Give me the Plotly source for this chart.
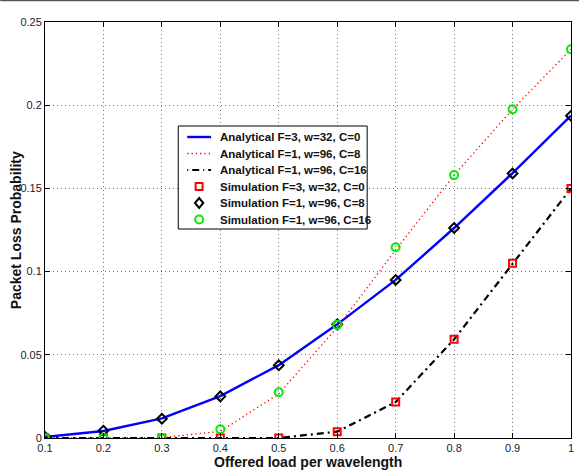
import plotly.graph_objects as go

load = [0.1, 0.2, 0.3, 0.4, 0.5, 0.6, 0.7, 0.8, 0.9, 1.0]

ana_f3_w32_c0 = [0.0006, 0.0042, 0.0118, 0.0252, 0.0438, 0.0683, 0.0950, 0.1262, 0.1592, 0.1937]
ana_f1_w96_c8 = [0.0, 0.0, 0.0002, 0.0040, 0.0265, 0.0665, 0.1130, 0.1580, 0.1975, 0.2336]
ana_f1_w96_c16 = [0.0, 0.0, 0.0, 0.0, 0.0, 0.0038, 0.0216, 0.0593, 0.1050, 0.1500]

sim_f3_w32_c0 = [0.0, 0.0, 0.0, 0.0, 0.0, 0.0038, 0.0216, 0.0593, 0.1050, 0.1500]
sim_f1_w96_c8 = [0.0006, 0.0044, 0.0116, 0.0250, 0.0437, 0.0683, 0.0950, 0.1262, 0.1590, 0.1937]
sim_f1_w96_c16 = [0.0, 0.0, 0.0, 0.0052, 0.0275, 0.0680, 0.1146, 0.1580, 0.1975, 0.2336]

series_names = [
    "Analytical F=3, w=32, C=0",
    "Analytical F=1, w=96, C=8",
    "Analytical F=1, w=96, C=16",
    "Simulation F=3, w=32, C=0",
    "Simulation F=1, w=96, C=8",
    "Simulation F=1, w=96, C=16",
]

x_ticks = [0.1, 0.2, 0.3, 0.4, 0.5, 0.6, 0.7, 0.8, 0.9, 1.0]
x_tick_labels = ["0.1", "0.2", "0.3", "0.4", "0.5", "0.6", "0.7", "0.8", "0.9", "1"]
y_ticks = [0, 0.05, 0.1, 0.15, 0.2, 0.25]
y_tick_labels = ["0", "0.05", "0.1", "0.15", "0.2", "0.25"]
x_title = "Offered load per wavelength"
y_title = "Packet Loss Probability"

FONT = "Liberation Sans, Arial, Helvetica, sans-serif"
BLUE, RED, GREEN = "#0000ff", "#ff0000", "#00ee00"

W, H = 582, 471
ML, MR, MT, MB = 45, 8, 22, 33
PW, PH = W - ML - MR, H - MT - MB


def px(x):
    return (x - ML) / PW


def py(y):
    return (H - MB - y) / PH


fig = go.Figure()
fig.add_trace(go.Scatter(x=load, y=ana_f3_w32_c0, mode="lines", name=series_names[0],
                         line=dict(color=BLUE, width=2.4)))
fig.add_trace(go.Scatter(x=load, y=ana_f1_w96_c8, mode="lines", name=series_names[1],
                         line=dict(color=RED, width=1.3, dash="1.3px,3px")))
fig.add_trace(go.Scatter(x=load, y=ana_f1_w96_c16, mode="lines", name=series_names[2],
                         line=dict(color="#000000", width=2.2, dash="7px,4px,2px,4px")))
fig.add_trace(go.Scatter(x=load, y=sim_f3_w32_c0, mode="markers", name=series_names[3],
                         marker=dict(symbol="square-open", size=7, color=RED,
                                     line=dict(width=2, color=RED))))
fig.add_trace(go.Scatter(x=load, y=sim_f1_w96_c8, mode="markers", name=series_names[4],
                         marker=dict(symbol="diamond-open", size=7.5, color="#000000",
                                     line=dict(width=2, color="#000000"))))
fig.add_trace(go.Scatter(x=load, y=sim_f1_w96_c16, mode="markers", name=series_names[5],
                         marker=dict(symbol="circle-open", size=8, color=GREEN,
                                     line=dict(width=2, color=GREEN))))

axis_common = dict(
    showline=True, linecolor="black", linewidth=1, mirror="ticks",
    ticks="inside", ticklen=5, tickcolor="black",
    showgrid=True, gridcolor="#777777", griddash="1px,3px", gridwidth=1,
    zeroline=False,
    tickfont=dict(family=FONT, size=11, color="#222222"),
)

fig.update_xaxes(range=[0.1, 1.0], tickvals=x_ticks, ticktext=x_tick_labels, **axis_common)
fig.update_yaxes(range=[0, 0.25], tickvals=y_ticks, ticktext=y_tick_labels, **axis_common)

shapes = []
annotations = []

# axis titles
annotations.append(dict(xref="paper", yref="paper", x=px(309), y=py(462),
                        xanchor="center", yanchor="middle", showarrow=False,
                        text=f"<b>{x_title}</b>",
                        font=dict(family=FONT, size=14, color="#111111")))
annotations.append(dict(xref="paper", yref="paper", x=px(16), y=py(230),
                        xanchor="center", yanchor="middle", showarrow=False, textangle=-90,
                        text=f"<b>{y_title}</b>",
                        font=dict(family=FONT, size=14, color="#111111")))

# custom legend (box, samples, labels)
shapes.append(dict(type="rect", xref="paper", yref="paper",
                   x0=px(179), x1=px(369), y0=py(229), y1=py(126),
                   line=dict(color="black", width=1), fillcolor="white", layer="above"))
row_y = [137, 153.5, 170, 186.5, 203, 219.5]
line_styles = [dict(color=BLUE, width=2.4),
               dict(color=RED, width=1.3, dash="1.3px,3px"),
               dict(color="#000000", width=2.2, dash="1px,4px,7px,4px")]
for i in range(3):
    shapes.append(dict(type="line", xref="paper", yref="paper",
                       x0=px(188), x1=px(212), y0=py(row_y[i]), y1=py(row_y[i]),
                       line=line_styles[i], layer="above"))
cx = 200
shapes.append(dict(type="rect", xref="paper", yref="paper",
                   x0=px(cx - 3.5), x1=px(cx + 3.5), y0=py(row_y[3] + 3.5), y1=py(row_y[3] - 3.5),
                   line=dict(color=RED, width=2), layer="above"))
yd = row_y[4]
shapes.append(dict(type="path", xref="paper", yref="paper",
                   path=(f"M {px(cx)} {py(yd - 5)} L {px(cx + 4.2)} {py(yd)} "
                         f"L {px(cx)} {py(yd + 5)} L {px(cx - 4.2)} {py(yd)} Z"),
                   line=dict(color="black", width=2), layer="above"))
yc = row_y[5]
shapes.append(dict(type="circle", xref="paper", yref="paper",
                   x0=px(cx - 4), x1=px(cx + 4), y0=py(yc + 4), y1=py(yc - 4),
                   line=dict(color=GREEN, width=2), layer="above"))
for i, name in enumerate(series_names):
    annotations.append(dict(xref="paper", yref="paper", x=px(219), y=py(row_y[i]),
                            xanchor="left", yanchor="middle", showarrow=False,
                            text=f"<b>{name}</b>",
                            font=dict(family=FONT, size=11.5, color="#111111")))

# thin dark frame line at the very top of the picture
shapes.append(dict(type="line", xref="paper", yref="paper",
                   x0=px(0), x1=px(W), y0=py(0.5), y1=py(0.5),
                   line=dict(color="#555555", width=1.5), layer="above"))

fig.update_layout(
    width=W, height=H,
    margin=dict(l=ML, r=MR, t=MT, b=MB),
    paper_bgcolor="white", plot_bgcolor="white",
    font=dict(family=FONT, color="#111111"),
    showlegend=False,
    shapes=shapes,
    annotations=annotations,
)

fig.write_html("out.html", config={"displayModeBar": False},
               post_script="document.body.style.margin='0px';")
